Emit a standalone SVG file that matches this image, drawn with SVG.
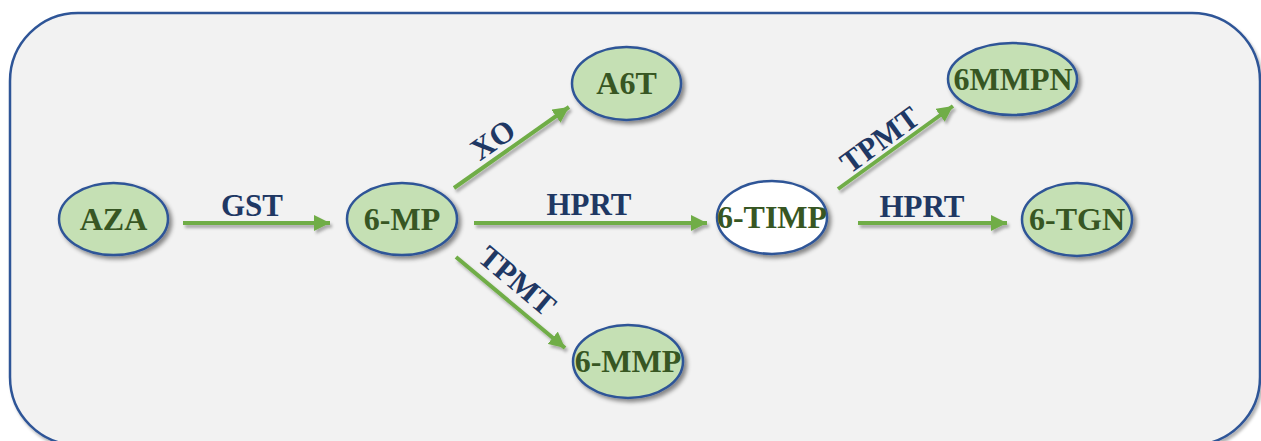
<svg xmlns="http://www.w3.org/2000/svg" width="1261" height="441" viewBox="0 0 1261 441">
<defs>
  <filter id="sh" x="-20%" y="-20%" width="150%" height="160%">
    <feDropShadow dx="3" dy="3" stdDeviation="2" flood-color="#000" flood-opacity="0.45"/>
  </filter>
  <filter id="shl" filterUnits="userSpaceOnUse" x="0" y="0" width="1261" height="441">
    <feDropShadow dx="2" dy="3" stdDeviation="1.5" flood-color="#000" flood-opacity="0.3"/>
  </filter>
  <marker id="ah" viewBox="0 0 10 10" refX="10" refY="5" markerWidth="4" markerHeight="4" markerUnits="strokeWidth" orient="auto">
    <path d="M0,0 L10,5 L0,10 z" fill="#70AD47"/>
  </marker>
  <style>
    .node ellipse { fill: #C5E0B4; stroke: #2F5597; stroke-width: 2.5; filter: url(#sh); }
    .node ellipse.white { fill: #FFFFFF; }
    .nt { font-family: "Liberation Serif", serif; font-weight: bold; font-size: 32px; fill: #375623; text-anchor: middle; }
    .lt { font-family: "Liberation Serif", serif; font-weight: bold; font-size: 31px; fill: #1F3864; text-anchor: middle; }
    .conn line { stroke: #70AD47; stroke-width: 4; marker-end: url(#ah); }
  </style>
</defs>
<rect x="10" y="13" width="1250" height="432" rx="68" ry="68" fill="#F2F2F2" stroke="#2F5597" stroke-width="2.5" filter="url(#shl)"/>

<g id="connectors" class="conn" filter="url(#shl)">
  <line x1="183" y1="223" x2="330" y2="223"/>
  <line x1="474" y1="223" x2="707" y2="223"/>
  <line x1="858" y1="223" x2="1007" y2="223"/>
  <line x1="454" y1="188" x2="569" y2="107"/>
  <line x1="456" y1="257" x2="565" y2="348"/>
  <line x1="838" y1="189" x2="953" y2="106"/>
</g>

<g id="labels">
  <text class="lt" x="252" y="216">GST</text>
  <text class="lt" x="589" y="215">HPRT</text>
  <text class="lt" x="922" y="217">HPRT</text>
  <text class="lt" transform="translate(493,140) rotate(-35)" x="0" y="10">XO</text>
  <text class="lt" transform="translate(517,281) rotate(40)" x="0" y="10">TPMT</text>
  <text class="lt" transform="translate(880,140) rotate(-36)" x="0" y="10">TPMT</text>
</g>

<g id="AZA" class="node"><ellipse cx="113.5" cy="219" rx="54.5" ry="36"/><text class="nt" x="113.5" y="230">AZA</text></g>
<g id="6-MP" class="node"><ellipse cx="402" cy="219" rx="55" ry="36"/><text class="nt" x="402" y="230">6-MP</text></g>
<g id="A6T" class="node"><ellipse cx="626.5" cy="83.5" rx="54.5" ry="36.5"/><text class="nt" x="626.5" y="94">A6T</text></g>
<g id="6-MMP" class="node"><ellipse cx="628" cy="361.5" rx="55" ry="36.5"/><text class="nt" x="628" y="372">6-MMP</text></g>
<g id="6-TIMP" class="node"><ellipse class="white" cx="772" cy="217.5" rx="55" ry="36.5"/><text class="nt" x="772" y="228">6-TIMP</text></g>
<g id="6-TGN" class="node"><ellipse cx="1077" cy="219.5" rx="55" ry="36.5"/><text class="nt" x="1077" y="230">6-TGN</text></g>
<g id="6MMPN" class="node"><ellipse cx="1012.5" cy="79" rx="64.5" ry="36"/><text class="nt" x="1013" y="90">6MMPN</text></g>
</svg>
